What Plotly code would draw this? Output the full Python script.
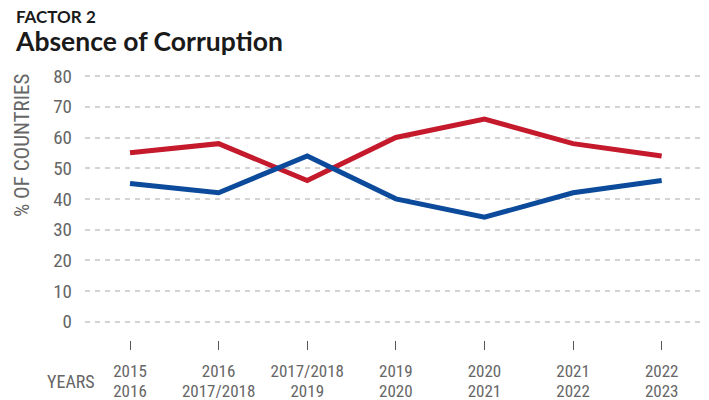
import plotly.graph_objects as go

# Survey rounds (two-line labels) and shares of countries per trend
period_start = ["2015", "2016", "2017/2018", "2019", "2020", "2021", "2022"]
period_end = ["2016", "2017/2018", "2019", "2020", "2021", "2022", "2023"]
red_series = [55, 58, 46, 60, 66, 58, 54]
blue_series = [45, 42, 54, 40, 34, 42, 46]
y_ticks = [0, 10, 20, 30, 40, 50, 60, 70, 80]

W, H = 709, 400
ML, MR, MT, MB = 85, 8, 70, 60
PW, PH = W - ML - MR, H - MT - MB

RED = "#C41A2C"
BLUE = "#0C4A9B"
TICK_GRAY = "#666666"
TICK_FONT = "Liberation Sans Narrow, Roboto Condensed, Arial Narrow, sans-serif"
TITLE_FONT = "Lato, Open Sans, sans-serif"
TICK_SIZE = 19
XTICK_SIZE = 17

xs = list(range(len(period_start)))
x_range = [-0.508, 6.444]


def py(px):
    """Convert a pixel row (from top of the page) to paper y."""
    return (H - MB - px) / PH


def pxx(px):
    """Convert a pixel column to paper x."""
    return (px - ML) / PW


fig = go.Figure()
fig.add_trace(go.Scatter(x=xs, y=red_series, mode="lines",
                         line=dict(color=RED, width=5), hoverinfo="skip"))
fig.add_trace(go.Scatter(x=xs, y=blue_series, mode="lines",
                         line=dict(color=BLUE, width=5), hoverinfo="skip"))
# Invisible trace on the second x axis so its tick labels are rendered
fig.add_trace(go.Scatter(x=[xs[0]], y=[None], xaxis="x2", yaxis="y",
                         mode="lines", showlegend=False, hoverinfo="skip"))

tick_font = dict(family=TICK_FONT, size=TICK_SIZE, color=TICK_GRAY)
xtick_font = dict(family=TICK_FONT, size=XTICK_SIZE, color=TICK_GRAY)

fig.update_layout(
    template="none",
    width=W, height=H,
    margin=dict(l=ML, r=MR, t=MT, b=MB, autoexpand=False),
    paper_bgcolor="white", plot_bgcolor="white",
    showlegend=False,
    xaxis=dict(
        range=x_range, tickmode="array", tickvals=xs, ticktext=period_start,
        ticks="outside", ticklen=9, tickwidth=1, tickcolor="#555555",
        showgrid=False, zeroline=False, showline=False, automargin=False,
        tickfont=xtick_font, ticklabelstandoff=7,
    ),
    xaxis2=dict(
        range=x_range, tickmode="array", tickvals=xs, ticktext=period_end,
        overlaying="x", anchor="y", side="bottom", ticks="",
        showgrid=False, zeroline=False, showline=False, automargin=False,
        tickfont=xtick_font, ticklabelstandoff=39,
    ),
    yaxis=dict(
        range=[-6, 82], tickmode="array", tickvals=y_ticks,
        showgrid=True, gridcolor="#d3d3d3", gridwidth=1.5, griddash="5px,5px",
        zeroline=False, showline=False, ticks="", automargin=False,
        tickfont=tick_font, ticklabelstandoff=12,
    ),
)

fig.add_annotation(text="FACTOR 2", xref="paper", yref="paper",
                   x=pxx(14), y=py(16), xanchor="left", yanchor="middle",
                   showarrow=False,
                   font=dict(family=TITLE_FONT, size=17, color="#1a1a1a",
                             weight="bold"))
fig.add_annotation(text="Absence of Corruption", xref="paper", yref="paper",
                   x=pxx(13), y=py(41), xanchor="left", yanchor="middle",
                   showarrow=False,
                   font=dict(family=TITLE_FONT, size=26.5, color="#1a1a1a",
                             weight="bold"))
fig.add_annotation(text="% OF COUNTRIES", xref="paper", yref="paper",
                   x=pxx(22), y=py(145), xanchor="center", yanchor="middle",
                   textangle=-90, showarrow=False,
                   font=dict(family=TICK_FONT, size=21, color=TICK_GRAY))
fig.add_annotation(text="YEARS", xref="paper", yref="paper",
                   x=pxx(97), y=py(381), xanchor="right", yanchor="middle",
                   showarrow=False,
                   font=dict(family=TICK_FONT, size=18, color=TICK_GRAY))

fig.write_html("out.html")
